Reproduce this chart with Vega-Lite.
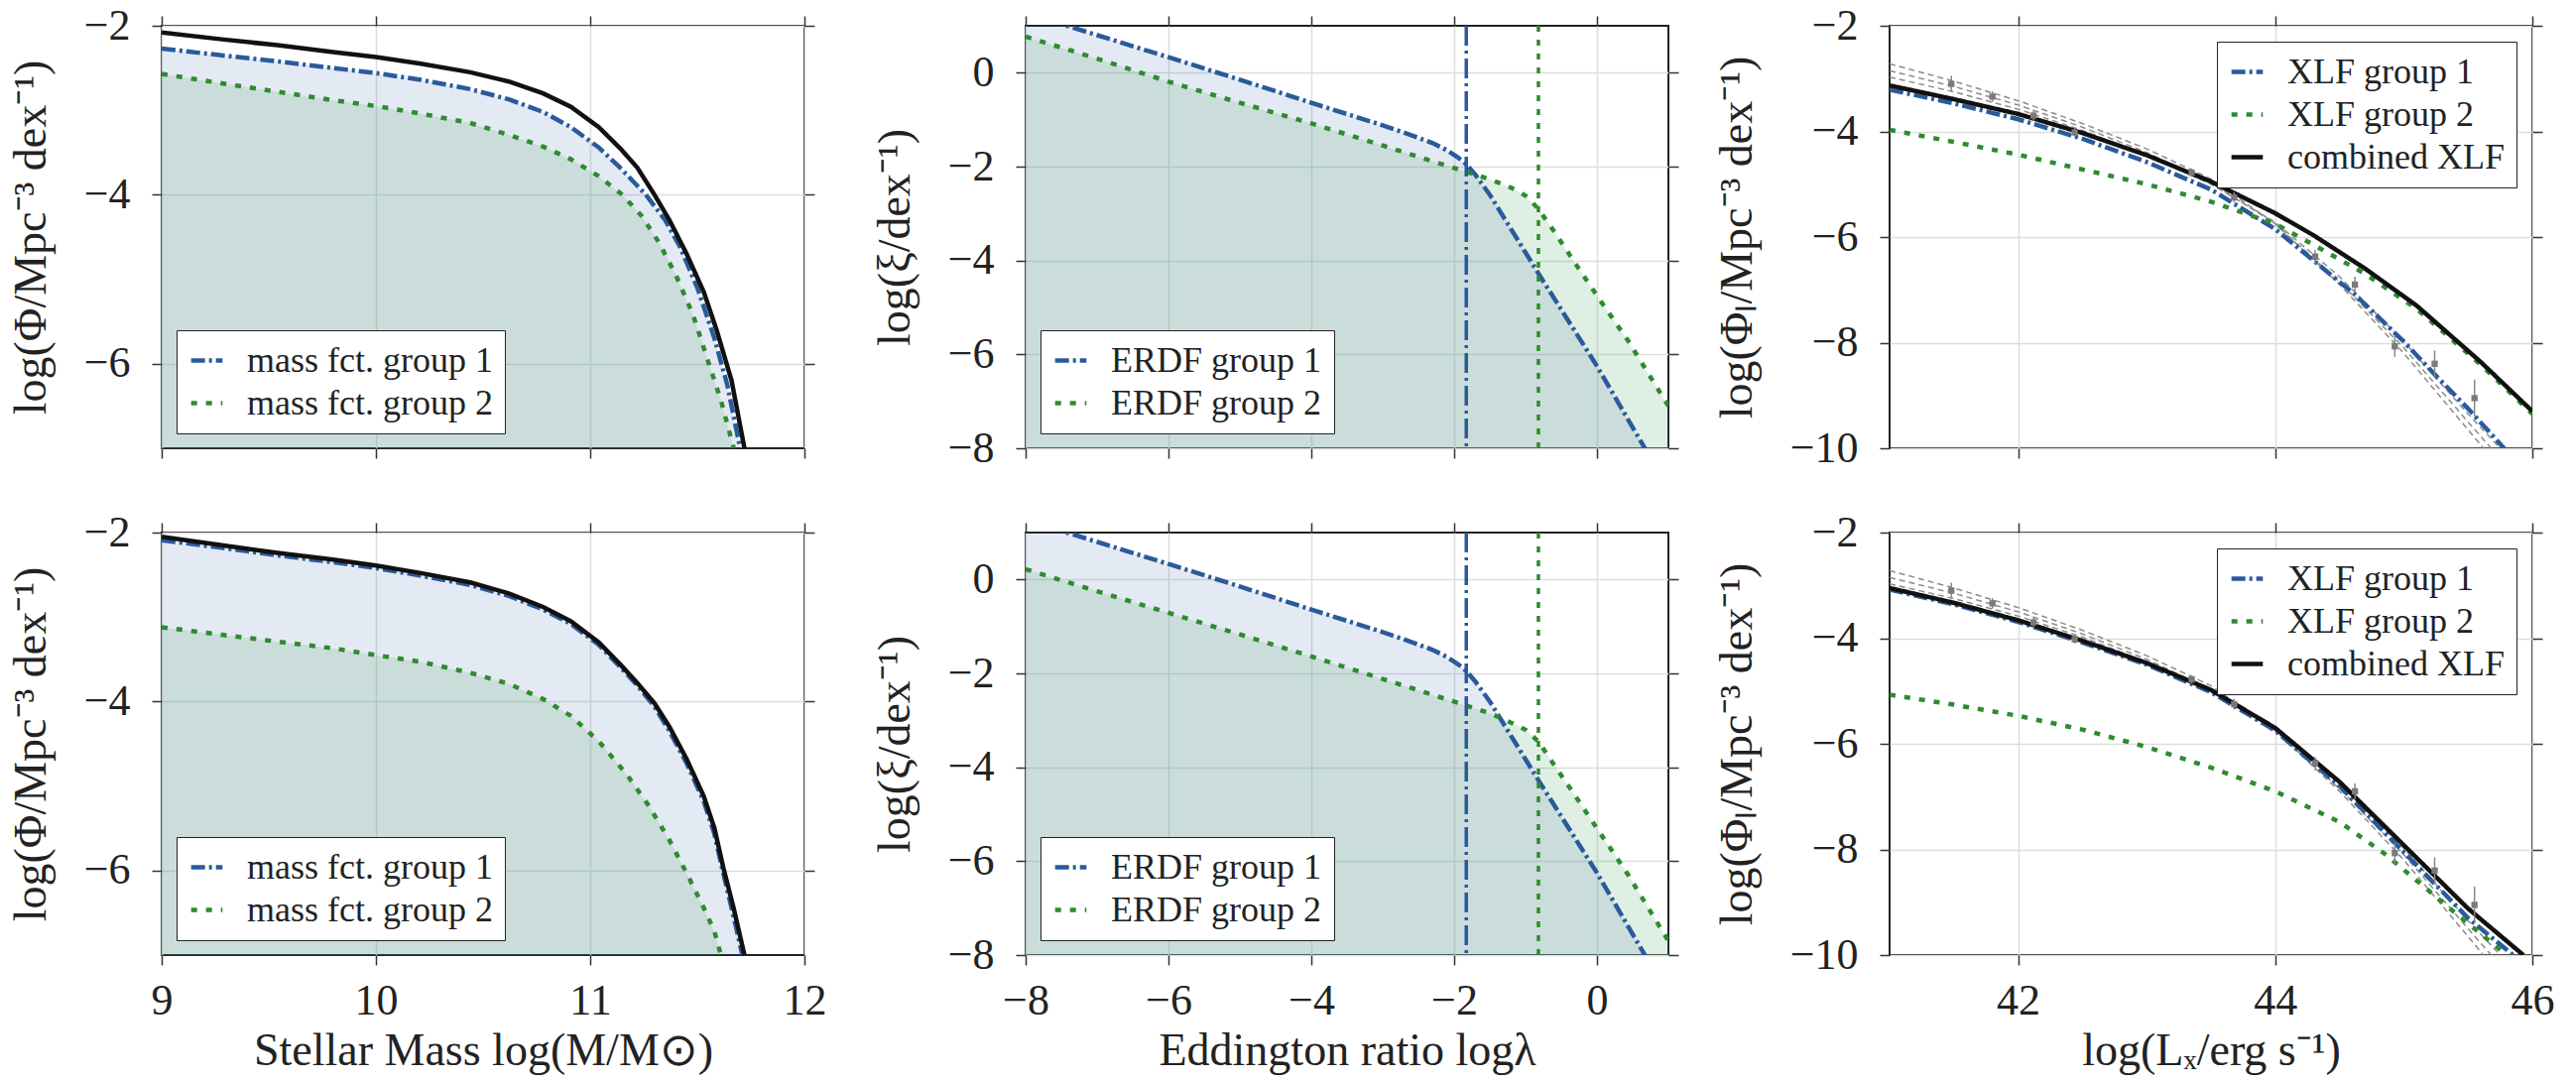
{
 "$schema": "https://vega.github.io/schema/vega-lite/v6.json",
 "background": "white",
 "padding": {"left": 7, "top": 3, "right": 5, "bottom": 5},
 "bounds": "flush",
 "columns": 3,
 "spacing": {"row": 85, "column": 223},
 "resolve": {"scale": {"color": "independent", "strokeDash": "independent"}, "legend": {"color": "independent", "strokeDash": "independent"}},
 "datasets": {
  "mf": [
   {"row":"top","s":"mass fct. group 1","x":9.0,"y":-2.27},{"row":"top","s":"mass fct. group 1","x":9.28,"y":-2.35},{"row":"top","s":"mass fct. group 1","x":9.54,"y":-2.42},{"row":"top","s":"mass fct. group 1","x":9.8,"y":-2.5},{"row":"top","s":"mass fct. group 1","x":10.0,"y":-2.56},{"row":"top","s":"mass fct. group 1","x":10.21,"y":-2.64},{"row":"top","s":"mass fct. group 1","x":10.44,"y":-2.75},{"row":"top","s":"mass fct. group 1","x":10.62,"y":-2.87},{"row":"top","s":"mass fct. group 1","x":10.78,"y":-3.02},{"row":"top","s":"mass fct. group 1","x":10.91,"y":-3.2},{"row":"top","s":"mass fct. group 1","x":11.04,"y":-3.44},{"row":"top","s":"mass fct. group 1","x":11.14,"y":-3.68},{"row":"top","s":"mass fct. group 1","x":11.26,"y":-4.0},{"row":"top","s":"mass fct. group 1","x":11.35,"y":-4.3},{"row":"top","s":"mass fct. group 1","x":11.42,"y":-4.62},{"row":"top","s":"mass fct. group 1","x":11.5,"y":-5.1},{"row":"top","s":"mass fct. group 1","x":11.58,"y":-5.7},{"row":"top","s":"mass fct. group 1","x":11.64,"y":-6.25},{"row":"top","s":"mass fct. group 1","x":11.7,"y":-7.0},
   {"row":"top","s":"mass fct. group 2","x":9.0,"y":-2.57},{"row":"top","s":"mass fct. group 2","x":9.28,"y":-2.68},{"row":"top","s":"mass fct. group 2","x":9.54,"y":-2.78},{"row":"top","s":"mass fct. group 2","x":9.8,"y":-2.88},{"row":"top","s":"mass fct. group 2","x":10.0,"y":-2.95},{"row":"top","s":"mass fct. group 2","x":10.21,"y":-3.04},{"row":"top","s":"mass fct. group 2","x":10.44,"y":-3.15},{"row":"top","s":"mass fct. group 2","x":10.62,"y":-3.29},{"row":"top","s":"mass fct. group 2","x":10.78,"y":-3.43},{"row":"top","s":"mass fct. group 2","x":10.91,"y":-3.58},{"row":"top","s":"mass fct. group 2","x":11.04,"y":-3.78},{"row":"top","s":"mass fct. group 2","x":11.15,"y":-4.0},{"row":"top","s":"mass fct. group 2","x":11.24,"y":-4.25},{"row":"top","s":"mass fct. group 2","x":11.32,"y":-4.56},{"row":"top","s":"mass fct. group 2","x":11.4,"y":-4.95},{"row":"top","s":"mass fct. group 2","x":11.48,"y":-5.42},{"row":"top","s":"mass fct. group 2","x":11.54,"y":-5.89},{"row":"top","s":"mass fct. group 2","x":11.61,"y":-6.43},{"row":"top","s":"mass fct. group 2","x":11.67,"y":-7.0},
   {"row":"top","s":"total","x":9.0,"y":-2.08},{"row":"top","s":"total","x":9.28,"y":-2.16},{"row":"top","s":"total","x":9.54,"y":-2.23},{"row":"top","s":"total","x":9.8,"y":-2.31},{"row":"top","s":"total","x":10.0,"y":-2.37},{"row":"top","s":"total","x":10.21,"y":-2.45},{"row":"top","s":"total","x":10.44,"y":-2.55},{"row":"top","s":"total","x":10.62,"y":-2.66},{"row":"top","s":"total","x":10.78,"y":-2.8},{"row":"top","s":"total","x":10.91,"y":-2.96},{"row":"top","s":"total","x":11.04,"y":-3.2},{"row":"top","s":"total","x":11.14,"y":-3.45},{"row":"top","s":"total","x":11.22,"y":-3.68},{"row":"top","s":"total","x":11.3,"y":-4.0},{"row":"top","s":"total","x":11.37,"y":-4.3},{"row":"top","s":"total","x":11.45,"y":-4.7},{"row":"top","s":"total","x":11.53,"y":-5.15},{"row":"top","s":"total","x":11.59,"y":-5.6},{"row":"top","s":"total","x":11.66,"y":-6.2},{"row":"top","s":"total","x":11.72,"y":-7.0},
   {"row":"bot","s":"mass fct. group 1","x":9.0,"y":-2.09},{"row":"bot","s":"mass fct. group 1","x":9.28,"y":-2.18},{"row":"bot","s":"mass fct. group 1","x":9.54,"y":-2.27},{"row":"bot","s":"mass fct. group 1","x":9.8,"y":-2.35},{"row":"bot","s":"mass fct. group 1","x":10.0,"y":-2.42},{"row":"bot","s":"mass fct. group 1","x":10.21,"y":-2.51},{"row":"bot","s":"mass fct. group 1","x":10.44,"y":-2.62},{"row":"bot","s":"mass fct. group 1","x":10.62,"y":-2.75},{"row":"bot","s":"mass fct. group 1","x":10.78,"y":-2.91},{"row":"bot","s":"mass fct. group 1","x":10.91,"y":-3.08},{"row":"bot","s":"mass fct. group 1","x":11.04,"y":-3.33},{"row":"bot","s":"mass fct. group 1","x":11.14,"y":-3.59},{"row":"bot","s":"mass fct. group 1","x":11.22,"y":-3.81},{"row":"bot","s":"mass fct. group 1","x":11.3,"y":-4.06},{"row":"bot","s":"mass fct. group 1","x":11.37,"y":-4.35},{"row":"bot","s":"mass fct. group 1","x":11.45,"y":-4.73},{"row":"bot","s":"mass fct. group 1","x":11.53,"y":-5.18},{"row":"bot","s":"mass fct. group 1","x":11.58,"y":-5.57},{"row":"bot","s":"mass fct. group 1","x":11.62,"y":-6.02},{"row":"bot","s":"mass fct. group 1","x":11.67,"y":-6.55},{"row":"bot","s":"mass fct. group 1","x":11.71,"y":-7.0},
   {"row":"bot","s":"mass fct. group 2","x":9.0,"y":-3.12},{"row":"bot","s":"mass fct. group 2","x":9.28,"y":-3.21},{"row":"bot","s":"mass fct. group 2","x":9.54,"y":-3.29},{"row":"bot","s":"mass fct. group 2","x":9.8,"y":-3.37},{"row":"bot","s":"mass fct. group 2","x":10.0,"y":-3.45},{"row":"bot","s":"mass fct. group 2","x":10.21,"y":-3.53},{"row":"bot","s":"mass fct. group 2","x":10.44,"y":-3.66},{"row":"bot","s":"mass fct. group 2","x":10.62,"y":-3.79},{"row":"bot","s":"mass fct. group 2","x":10.78,"y":-3.97},{"row":"bot","s":"mass fct. group 2","x":10.91,"y":-4.17},{"row":"bot","s":"mass fct. group 2","x":11.04,"y":-4.47},{"row":"bot","s":"mass fct. group 2","x":11.17,"y":-4.86},{"row":"bot","s":"mass fct. group 2","x":11.27,"y":-5.22},{"row":"bot","s":"mass fct. group 2","x":11.37,"y":-5.64},{"row":"bot","s":"mass fct. group 2","x":11.46,"y":-6.08},{"row":"bot","s":"mass fct. group 2","x":11.53,"y":-6.44},{"row":"bot","s":"mass fct. group 2","x":11.58,"y":-6.72},{"row":"bot","s":"mass fct. group 2","x":11.61,"y":-7.0},
   {"row":"bot","s":"total","x":9.0,"y":-2.05},{"row":"bot","s":"total","x":9.28,"y":-2.15},{"row":"bot","s":"total","x":9.54,"y":-2.24},{"row":"bot","s":"total","x":9.8,"y":-2.32},{"row":"bot","s":"total","x":10.0,"y":-2.39},{"row":"bot","s":"total","x":10.21,"y":-2.48},{"row":"bot","s":"total","x":10.44,"y":-2.59},{"row":"bot","s":"total","x":10.62,"y":-2.72},{"row":"bot","s":"total","x":10.78,"y":-2.88},{"row":"bot","s":"total","x":10.91,"y":-3.05},{"row":"bot","s":"total","x":11.04,"y":-3.3},{"row":"bot","s":"total","x":11.14,"y":-3.56},{"row":"bot","s":"total","x":11.22,"y":-3.78},{"row":"bot","s":"total","x":11.3,"y":-4.02},{"row":"bot","s":"total","x":11.37,"y":-4.3},{"row":"bot","s":"total","x":11.45,"y":-4.68},{"row":"bot","s":"total","x":11.53,"y":-5.12},{"row":"bot","s":"total","x":11.58,"y":-5.5},{"row":"bot","s":"total","x":11.62,"y":-5.95},{"row":"bot","s":"total","x":11.67,"y":-6.45},{"row":"bot","s":"total","x":11.72,"y":-7.0}
  ],
  "erdf": [
   {"row":"top","s":"ERDF group 1","x":-8,"y":1.28},{"row":"top","s":"ERDF group 1","x":-7.42,"y":1.0},{"row":"top","s":"ERDF group 1","x":-6.0,"y":0.33},{"row":"top","s":"ERDF group 1","x":-5.0,"y":-0.15},{"row":"top","s":"ERDF group 1","x":-4.0,"y":-0.64},{"row":"top","s":"ERDF group 1","x":-3.0,"y":-1.12},{"row":"top","s":"ERDF group 1","x":-2.6,"y":-1.33},{"row":"top","s":"ERDF group 1","x":-2.3,"y":-1.5},{"row":"top","s":"ERDF group 1","x":-2.1,"y":-1.65},{"row":"top","s":"ERDF group 1","x":-1.95,"y":-1.8},{"row":"top","s":"ERDF group 1","x":-1.83,"y":-1.95},{"row":"top","s":"ERDF group 1","x":-1.7,"y":-2.18},{"row":"top","s":"ERDF group 1","x":-1.5,"y":-2.6},{"row":"top","s":"ERDF group 1","x":-0.81,"y":-4.3},{"row":"top","s":"ERDF group 1","x":0.0,"y":-6.25},{"row":"top","s":"ERDF group 1","x":0.67,"y":-8.0},{"row":"top","s":"ERDF group 1","x":0.75,"y":-8.2},
   {"row":"top","s":"ERDF group 2","x":-8,"y":0.77},{"row":"top","s":"ERDF group 2","x":-7,"y":0.3},{"row":"top","s":"ERDF group 2","x":-6,"y":-0.19},{"row":"top","s":"ERDF group 2","x":-5,"y":-0.64},{"row":"top","s":"ERDF group 2","x":-4,"y":-1.08},{"row":"top","s":"ERDF group 2","x":-3,"y":-1.55},{"row":"top","s":"ERDF group 2","x":-2,"y":-2.03},{"row":"top","s":"ERDF group 2","x":-1.5,"y":-2.27},{"row":"top","s":"ERDF group 2","x":-1.2,"y":-2.45},{"row":"top","s":"ERDF group 2","x":-1.0,"y":-2.62},{"row":"top","s":"ERDF group 2","x":-0.82,"y":-2.9},{"row":"top","s":"ERDF group 2","x":-0.6,"y":-3.38},{"row":"top","s":"ERDF group 2","x":-0.33,"y":-4.0},{"row":"top","s":"ERDF group 2","x":0.0,"y":-4.75},{"row":"top","s":"ERDF group 2","x":0.44,"y":-5.72},{"row":"top","s":"ERDF group 2","x":1.0,"y":-7.1},
   {"row":"bot","s":"ERDF group 1","x":-8,"y":1.28},{"row":"bot","s":"ERDF group 1","x":-7.42,"y":1.0},{"row":"bot","s":"ERDF group 1","x":-6.0,"y":0.33},{"row":"bot","s":"ERDF group 1","x":-5.0,"y":-0.15},{"row":"bot","s":"ERDF group 1","x":-4.0,"y":-0.64},{"row":"bot","s":"ERDF group 1","x":-3.0,"y":-1.12},{"row":"bot","s":"ERDF group 1","x":-2.6,"y":-1.33},{"row":"bot","s":"ERDF group 1","x":-2.3,"y":-1.5},{"row":"bot","s":"ERDF group 1","x":-2.1,"y":-1.65},{"row":"bot","s":"ERDF group 1","x":-1.95,"y":-1.8},{"row":"bot","s":"ERDF group 1","x":-1.83,"y":-1.95},{"row":"bot","s":"ERDF group 1","x":-1.7,"y":-2.18},{"row":"bot","s":"ERDF group 1","x":-1.5,"y":-2.6},{"row":"bot","s":"ERDF group 1","x":-0.81,"y":-4.3},{"row":"bot","s":"ERDF group 1","x":0.0,"y":-6.25},{"row":"bot","s":"ERDF group 1","x":0.67,"y":-8.0},{"row":"bot","s":"ERDF group 1","x":0.75,"y":-8.2},
   {"row":"bot","s":"ERDF group 2","x":-8,"y":0.22},{"row":"bot","s":"ERDF group 2","x":-7,"y":-0.25},{"row":"bot","s":"ERDF group 2","x":-6,"y":-0.71},{"row":"bot","s":"ERDF group 2","x":-5,"y":-1.17},{"row":"bot","s":"ERDF group 2","x":-4,"y":-1.64},{"row":"bot","s":"ERDF group 2","x":-3,"y":-2.12},{"row":"bot","s":"ERDF group 2","x":-2,"y":-2.6},{"row":"bot","s":"ERDF group 2","x":-1.5,"y":-2.85},{"row":"bot","s":"ERDF group 2","x":-1.27,"y":-3.0},{"row":"bot","s":"ERDF group 2","x":-1.0,"y":-3.2},{"row":"bot","s":"ERDF group 2","x":-0.82,"y":-3.45},{"row":"bot","s":"ERDF group 2","x":-0.6,"y":-3.95},{"row":"bot","s":"ERDF group 2","x":-0.33,"y":-4.55},{"row":"bot","s":"ERDF group 2","x":0.0,"y":-5.3},{"row":"bot","s":"ERDF group 2","x":0.44,"y":-6.3},{"row":"bot","s":"ERDF group 2","x":1.0,"y":-7.7}
  ],
  "erdfv": [{"s":"group 1 break","x":-1.83},{"s":"group 2 break","x":-0.82}],
  "xlf": [
   {"row":"top","s":"XLF group 1","x":41.0,"y":-3.21},{"row":"top","s":"XLF group 1","x":41.5,"y":-3.47},{"row":"top","s":"XLF group 1","x":42.0,"y":-3.77},{"row":"top","s":"XLF group 1","x":42.5,"y":-4.14},{"row":"top","s":"XLF group 1","x":43.0,"y":-4.58},{"row":"top","s":"XLF group 1","x":43.5,"y":-5.1},{"row":"top","s":"XLF group 1","x":44.0,"y":-5.85},{"row":"top","s":"XLF group 1","x":44.3,"y":-6.45},{"row":"top","s":"XLF group 1","x":44.62,"y":-7.09},{"row":"top","s":"XLF group 1","x":45.0,"y":-7.98},{"row":"top","s":"XLF group 1","x":45.24,"y":-8.6},{"row":"top","s":"XLF group 1","x":45.5,"y":-9.25},{"row":"top","s":"XLF group 1","x":45.78,"y":-10.0},
   {"row":"top","s":"XLF group 2","x":41.0,"y":-3.97},{"row":"top","s":"XLF group 2","x":41.5,"y":-4.2},{"row":"top","s":"XLF group 2","x":42.0,"y":-4.44},{"row":"top","s":"XLF group 2","x":42.5,"y":-4.72},{"row":"top","s":"XLF group 2","x":43.0,"y":-5.0},{"row":"top","s":"XLF group 2","x":43.5,"y":-5.33},{"row":"top","s":"XLF group 2","x":44.0,"y":-5.75},{"row":"top","s":"XLF group 2","x":44.3,"y":-6.15},{"row":"top","s":"XLF group 2","x":44.7,"y":-6.7},{"row":"top","s":"XLF group 2","x":45.1,"y":-7.36},{"row":"top","s":"XLF group 2","x":45.6,"y":-8.42},{"row":"top","s":"XLF group 2","x":46.0,"y":-9.35},
   {"row":"top","s":"combined XLF","x":41.0,"y":-3.13},{"row":"top","s":"combined XLF","x":41.5,"y":-3.39},{"row":"top","s":"combined XLF","x":42.0,"y":-3.67},{"row":"top","s":"combined XLF","x":42.5,"y":-4.03},{"row":"top","s":"combined XLF","x":43.0,"y":-4.45},{"row":"top","s":"combined XLF","x":43.5,"y":-4.95},{"row":"top","s":"combined XLF","x":44.0,"y":-5.55},{"row":"top","s":"combined XLF","x":44.3,"y":-5.97},{"row":"top","s":"combined XLF","x":44.7,"y":-6.6},{"row":"top","s":"combined XLF","x":45.1,"y":-7.3},{"row":"top","s":"combined XLF","x":45.6,"y":-8.37},{"row":"top","s":"combined XLF","x":46.0,"y":-9.3},
   {"row":"bot","s":"XLF group 1","x":41.0,"y":-3.08},{"row":"bot","s":"XLF group 1","x":41.5,"y":-3.36},{"row":"bot","s":"XLF group 1","x":42.0,"y":-3.69},{"row":"bot","s":"XLF group 1","x":42.5,"y":-4.08},{"row":"bot","s":"XLF group 1","x":43.0,"y":-4.5},{"row":"bot","s":"XLF group 1","x":43.5,"y":-5.02},{"row":"bot","s":"XLF group 1","x":44.0,"y":-5.75},{"row":"bot","s":"XLF group 1","x":44.5,"y":-6.8},{"row":"bot","s":"XLF group 1","x":45.0,"y":-8.05},{"row":"bot","s":"XLF group 1","x":45.5,"y":-9.3},{"row":"bot","s":"XLF group 1","x":45.85,"y":-10.0},
   {"row":"bot","s":"XLF group 2","x":41.0,"y":-5.07},{"row":"bot","s":"XLF group 2","x":41.5,"y":-5.26},{"row":"bot","s":"XLF group 2","x":42.0,"y":-5.47},{"row":"bot","s":"XLF group 2","x":42.5,"y":-5.73},{"row":"bot","s":"XLF group 2","x":43.0,"y":-6.06},{"row":"bot","s":"XLF group 2","x":43.5,"y":-6.45},{"row":"bot","s":"XLF group 2","x":44.0,"y":-6.9},{"row":"bot","s":"XLF group 2","x":44.5,"y":-7.48},{"row":"bot","s":"XLF group 2","x":44.85,"y":-8.08},{"row":"bot","s":"XLF group 2","x":45.34,"y":-9.08},{"row":"bot","s":"XLF group 2","x":45.8,"y":-10.0},
   {"row":"bot","s":"combined XLF","x":41.0,"y":-3.05},{"row":"bot","s":"combined XLF","x":41.5,"y":-3.33},{"row":"bot","s":"combined XLF","x":42.0,"y":-3.66},{"row":"bot","s":"combined XLF","x":42.5,"y":-4.05},{"row":"bot","s":"combined XLF","x":43.0,"y":-4.47},{"row":"bot","s":"combined XLF","x":43.5,"y":-4.98},{"row":"bot","s":"combined XLF","x":44.0,"y":-5.7},{"row":"bot","s":"combined XLF","x":44.5,"y":-6.72},{"row":"bot","s":"combined XLF","x":45.0,"y":-7.92},{"row":"bot","s":"combined XLF","x":45.5,"y":-9.12},{"row":"bot","s":"combined XLF","x":45.93,"y":-10.0}
  ],
  "xref": [
   {"c":"A","x":41.0,"y":-2.72},{"c":"A","x":41.5,"y":-3.05},{"c":"A","x":42.0,"y":-3.42},{"c":"A","x":42.5,"y":-3.85},{"c":"A","x":43.0,"y":-4.33},{"c":"A","x":43.5,"y":-4.9},{"c":"A","x":44.0,"y":-5.75},{"c":"A","x":44.5,"y":-6.9},{"c":"A","x":45.0,"y":-8.2},{"c":"A","x":45.5,"y":-9.65},{"c":"A","x":45.62,"y":-10.0},
   {"c":"B","x":41.0,"y":-2.85},{"c":"B","x":41.5,"y":-3.15},{"c":"B","x":42.0,"y":-3.5},{"c":"B","x":42.5,"y":-3.92},{"c":"B","x":43.0,"y":-4.4},{"c":"B","x":43.5,"y":-4.97},{"c":"B","x":44.0,"y":-5.75},{"c":"B","x":44.5,"y":-6.85},{"c":"B","x":45.0,"y":-8.1},{"c":"B","x":45.5,"y":-9.5},{"c":"B","x":45.68,"y":-10.0},
   {"c":"C","x":41.0,"y":-2.97},{"c":"C","x":41.5,"y":-3.25},{"c":"C","x":42.0,"y":-3.58},{"c":"C","x":42.5,"y":-3.98},{"c":"C","x":43.0,"y":-4.45},{"c":"C","x":43.5,"y":-5.0},{"c":"C","x":44.0,"y":-5.72},{"c":"C","x":44.5,"y":-6.75},{"c":"C","x":45.0,"y":-7.98},{"c":"C","x":45.5,"y":-9.35},{"c":"C","x":45.75,"y":-10.0}
  ],
  "xpts": [
   {"x":41.48,"y":-3.1,"lo":-3.25,"hi":-2.95},{"x":41.8,"y":-3.34,"lo":-3.44,"hi":-3.24},{"x":42.12,"y":-3.7,"lo":-3.8,"hi":-3.6},{"x":42.44,"y":-4.02,"lo":-4.1,"hi":-3.94},{"x":43.35,"y":-4.78,"lo":-4.86,"hi":-4.7},{"x":43.68,"y":-5.25,"lo":-5.35,"hi":-5.15},{"x":44.31,"y":-6.37,"lo":-6.5,"hi":-6.25},{"x":44.62,"y":-6.9,"lo":-7.05,"hi":-6.75},{"x":44.93,"y":-8.07,"lo":-8.27,"hi":-7.87},{"x":45.24,"y":-8.4,"lo":-8.65,"hi":-8.15},{"x":45.55,"y":-9.05,"lo":-9.4,"hi":-8.7}
  ]
 },
 "concat": [
  {
   "width": 648, "height": 426,
   "resolve": {"axis": {"x": "independent", "y": "independent"}},
   "layer": [
    {
     "encoding": {"x": {"field": "x", "type": "quantitative", "scale": {"domain": [9, 12], "nice": false, "zero": false}, "axis": {"values": [9, 10, 11, 12], "labels": false, "title": null}}},
     "layer": [
      {"data": {"name": "mf"}, "transform": [{"filter": "datum.row=='top' && datum.s=='mass fct. group 1'"}], "mark": {"type": "area", "color": "#4c72b0", "opacity": 0.15, "clip": true},
       "encoding": {"y": {"field": "y", "type": "quantitative", "scale": {"domain": [-7, -2], "nice": false, "zero": false}, "axis": {"values": [-6, -4, -2], "title": "log(Φ/Mpc⁻³ dex⁻¹)"}}, "y2": {"datum": -7}}},
      {"data": {"name": "mf"}, "transform": [{"filter": "datum.row=='top' && datum.s=='mass fct. group 2'"}], "mark": {"type": "area", "color": "#55a868", "opacity": 0.18, "clip": true},
       "encoding": {"y": {"field": "y", "type": "quantitative", "scale": {"domain": [-7, -2], "nice": false, "zero": false}, "axis": {"values": [-6, -4, -2], "title": "log(Φ/Mpc⁻³ dex⁻¹)"}}, "y2": {"datum": -7}}},
      {"data": {"name": "mf"}, "transform": [{"filter": "datum.row=='top' && datum.s!='total'"}], "mark": {"type": "line", "strokeWidth": 4.5, "clip": true},
       "encoding": {
        "y": {"field": "y", "type": "quantitative", "scale": {"domain": [-7, -2], "nice": false, "zero": false}, "axis": {"values": [-6, -4, -2], "title": "log(Φ/Mpc⁻³ dex⁻¹)"}},
        "color": {"field": "s", "type": "nominal", "scale": {"domain": ["mass fct. group 1", "mass fct. group 2"], "range": ["#2a5a9c", "#2e8b2e"]}, "legend": {"title": null, "orient": "bottom-left", "offset": 15}},
        "strokeDash": {"field": "s", "type": "nominal", "scale": {"domain": ["mass fct. group 1", "mass fct. group 2"], "range": [[14, 4, 3, 4], [6, 9]]}, "legend": {"title": null, "orient": "bottom-left", "offset": 15}}
       }},
      {"data": {"name": "mf"}, "transform": [{"filter": "datum.row=='top' && datum.s=='total'"}], "mark": {"type": "line", "color": "#111111", "strokeWidth": 4.5, "clip": true},
       "encoding": {"y": {"field": "y", "type": "quantitative", "scale": {"domain": [-7, -2], "nice": false, "zero": false}, "axis": {"values": [-6, -4, -2], "title": "log(Φ/Mpc⁻³ dex⁻¹)"}}}}
     ]
    },
    {"data": {"name": "mf"}, "mark": {"type": "point", "opacity": 0},
     "encoding": {
      "x": {"field": "x", "type": "quantitative", "scale": {"domain": [9, 12], "nice": false, "zero": false}, "axis": {"orient": "top", "values": [9, 10, 11, 12], "labels": false, "title": null, "grid": false}},
      "y": {"field": "y", "type": "quantitative", "scale": {"domain": [-7, -2], "nice": false, "zero": false}, "axis": {"orient": "right", "values": [-6, -4, -2], "labels": false, "title": null, "grid": false}}
     }}
   ]
  },
  {
   "width": 648, "height": 426,
   "resolve": {"axis": {"x": "independent", "y": "independent"}},
   "layer": [
    {
     "encoding": {"x": {"field": "x", "type": "quantitative", "scale": {"domain": [-8, 1], "nice": false, "zero": false}, "axis": {"values": [-8, -6, -4, -2, 0], "labels": false, "title": null}}},
     "layer": [
      {"data": {"name": "erdf"}, "transform": [{"filter": "datum.row=='top' && datum.s=='ERDF group 1'"}], "mark": {"type": "area", "color": "#4c72b0", "opacity": 0.15, "clip": true},
       "encoding": {"y": {"field": "y", "type": "quantitative", "scale": {"domain": [-8, 1], "nice": false, "zero": false}, "axis": {"values": [-8, -6, -4, -2, 0], "title": "log(ξ/dex⁻¹)"}}, "y2": {"datum": -8}}},
      {"data": {"name": "erdf"}, "transform": [{"filter": "datum.row=='top' && datum.s=='ERDF group 2'"}], "mark": {"type": "area", "color": "#55a868", "opacity": 0.18, "clip": true},
       "encoding": {"y": {"field": "y", "type": "quantitative", "scale": {"domain": [-8, 1], "nice": false, "zero": false}, "axis": {"values": [-8, -6, -4, -2, 0], "title": "log(ξ/dex⁻¹)"}}, "y2": {"datum": -8}}},
      {"data": {"name": "erdf"}, "transform": [{"filter": "datum.row=='top'"}], "mark": {"type": "line", "strokeWidth": 4.5, "clip": true},
       "encoding": {
        "y": {"field": "y", "type": "quantitative", "scale": {"domain": [-8, 1], "nice": false, "zero": false}, "axis": {"values": [-8, -6, -4, -2, 0], "title": "log(ξ/dex⁻¹)"}},
        "color": {"field": "s", "type": "nominal", "scale": {"domain": ["ERDF group 1", "ERDF group 2"], "range": ["#2a5a9c", "#2e8b2e"]}, "legend": {"title": null, "orient": "bottom-left", "offset": 15}},
        "strokeDash": {"field": "s", "type": "nominal", "scale": {"domain": ["ERDF group 1", "ERDF group 2"], "range": [[14, 4, 3, 4], [6, 9]]}, "legend": {"title": null, "orient": "bottom-left", "offset": 15}}
       }},
      {"data": {"name": "erdfv"}, "transform": [{"filter": "datum.s=='group 1 break'"}], "mark": {"type": "rule", "color": "#2a5a9c", "strokeWidth": 3.5, "strokeDash": [20, 5, 3, 5]}, "encoding": {}},
      {"data": {"name": "erdfv"}, "transform": [{"filter": "datum.s=='group 2 break'"}], "mark": {"type": "rule", "color": "#2e8b2e", "strokeWidth": 3.5, "strokeDash": [6, 8]}, "encoding": {}}
     ]
    },
    {"data": {"name": "erdf"}, "mark": {"type": "point", "opacity": 0},
     "encoding": {
      "x": {"field": "x", "type": "quantitative", "scale": {"domain": [-8, 1], "nice": false, "zero": false}, "axis": {"orient": "top", "values": [-8, -6, -4, -2, 0], "labels": false, "title": null, "grid": false}},
      "y": {"field": "y", "type": "quantitative", "scale": {"domain": [-8, 1], "nice": false, "zero": false}, "axis": {"orient": "right", "values": [-8, -6, -4, -2, 0], "labels": false, "title": null, "grid": false}}
     }}
   ]
  },
  {
   "width": 648, "height": 426,
   "resolve": {"axis": {"x": "independent", "y": "independent"}},
   "layer": [
    {
     "encoding": {"x": {"field": "x", "type": "quantitative", "scale": {"domain": [41, 46], "nice": false, "zero": false}, "axis": {"values": [42, 44, 46], "labels": false, "title": null}}},
     "layer": [
      {"data": {"name": "xref"}, "mark": {"type": "line", "color": "#8c8c8c", "strokeWidth": 1.5, "strokeDash": [6, 4], "clip": true},
       "encoding": {"y": {"field": "y", "type": "quantitative", "scale": {"domain": [-10, -2], "nice": false, "zero": false}, "axis": {"values": [-10, -8, -6, -4, -2], "title": "log(Φₗ/Mpc⁻³ dex⁻¹)"}}, "detail": {"field": "c", "type": "nominal"}}},
      {"data": {"name": "xlf"}, "transform": [{"filter": "datum.row=='top' && datum.s!='combined XLF'"}], "mark": {"type": "line", "strokeWidth": 4.5, "clip": true},
       "encoding": {
        "y": {"field": "y", "type": "quantitative", "scale": {"domain": [-10, -2], "nice": false, "zero": false}, "axis": {"values": [-10, -8, -6, -4, -2], "title": "log(Φₗ/Mpc⁻³ dex⁻¹)"}},
        "color": {"field": "s", "type": "nominal", "scale": {"domain": ["XLF group 1", "XLF group 2", "combined XLF"], "range": ["#2a5a9c", "#2e8b2e", "#111111"]}, "legend": {"title": null, "orient": "top-right", "offset": 16}},
        "strokeDash": {"field": "s", "type": "nominal", "scale": {"domain": ["XLF group 1", "XLF group 2", "combined XLF"], "range": [[14, 4, 3, 4], [6, 9], [1, 0]]}, "legend": {"title": null, "orient": "top-right", "offset": 16}}
       }},
      {"data": {"name": "xlf"}, "transform": [{"filter": "datum.row=='top' && datum.s=='combined XLF'"}], "mark": {"type": "line", "strokeWidth": 4.5, "clip": true},
       "encoding": {
        "y": {"field": "y", "type": "quantitative", "scale": {"domain": [-10, -2], "nice": false, "zero": false}, "axis": {"values": [-10, -8, -6, -4, -2], "title": "log(Φₗ/Mpc⁻³ dex⁻¹)"}},
        "color": {"field": "s", "type": "nominal", "scale": {"domain": ["XLF group 1", "XLF group 2", "combined XLF"], "range": ["#2a5a9c", "#2e8b2e", "#111111"]}, "legend": {"title": null, "orient": "top-right", "offset": 16}},
        "strokeDash": {"field": "s", "type": "nominal", "scale": {"domain": ["XLF group 1", "XLF group 2", "combined XLF"], "range": [[14, 4, 3, 4], [6, 9], [1, 0]]}, "legend": {"title": null, "orient": "top-right", "offset": 16}}
       }},
      {"data": {"name": "xpts"}, "mark": {"type": "rule", "color": "#888888", "strokeWidth": 1.5},
       "encoding": {"y": {"field": "lo", "type": "quantitative", "scale": {"domain": [-10, -2], "nice": false, "zero": false}, "axis": {"values": [-10, -8, -6, -4, -2], "title": "log(Φₗ/Mpc⁻³ dex⁻¹)"}}, "y2": {"field": "hi"}}},
      {"data": {"name": "xpts"}, "mark": {"type": "square", "color": "#7a7a7a", "size": 40, "opacity": 1},
       "encoding": {"y": {"field": "y", "type": "quantitative", "scale": {"domain": [-10, -2], "nice": false, "zero": false}, "axis": {"values": [-10, -8, -6, -4, -2], "title": "log(Φₗ/Mpc⁻³ dex⁻¹)"}}}}
     ]
    },
    {"data": {"name": "xpts"}, "mark": {"type": "point", "opacity": 0},
     "encoding": {
      "x": {"field": "x", "type": "quantitative", "scale": {"domain": [41, 46], "nice": false, "zero": false}, "axis": {"orient": "top", "values": [42, 44, 46], "labels": false, "title": null, "grid": false}},
      "y": {"field": "y", "type": "quantitative", "scale": {"domain": [-10, -2], "nice": false, "zero": false}, "axis": {"orient": "right", "values": [-10, -8, -6, -4, -2], "labels": false, "title": null, "grid": false}}
     }}
   ]
  },
  {
   "width": 648, "height": 426,
   "resolve": {"axis": {"x": "independent", "y": "independent"}},
   "layer": [
    {
     "encoding": {"x": {"field": "x", "type": "quantitative", "scale": {"domain": [9, 12], "nice": false, "zero": false}, "axis": {"values": [9, 10, 11, 12], "title": "Stellar Mass log(M/M⊙)"}}},
     "layer": [
      {"data": {"name": "mf"}, "transform": [{"filter": "datum.row=='bot' && datum.s=='mass fct. group 1'"}], "mark": {"type": "area", "color": "#4c72b0", "opacity": 0.15, "clip": true},
       "encoding": {"y": {"field": "y", "type": "quantitative", "scale": {"domain": [-7, -2], "nice": false, "zero": false}, "axis": {"values": [-6, -4, -2], "title": "log(Φ/Mpc⁻³ dex⁻¹)"}}, "y2": {"datum": -7}}},
      {"data": {"name": "mf"}, "transform": [{"filter": "datum.row=='bot' && datum.s=='mass fct. group 2'"}], "mark": {"type": "area", "color": "#55a868", "opacity": 0.18, "clip": true},
       "encoding": {"y": {"field": "y", "type": "quantitative", "scale": {"domain": [-7, -2], "nice": false, "zero": false}, "axis": {"values": [-6, -4, -2], "title": "log(Φ/Mpc⁻³ dex⁻¹)"}}, "y2": {"datum": -7}}},
      {"data": {"name": "mf"}, "transform": [{"filter": "datum.row=='bot' && datum.s!='total'"}], "mark": {"type": "line", "strokeWidth": 4.5, "clip": true},
       "encoding": {
        "y": {"field": "y", "type": "quantitative", "scale": {"domain": [-7, -2], "nice": false, "zero": false}, "axis": {"values": [-6, -4, -2], "title": "log(Φ/Mpc⁻³ dex⁻¹)"}},
        "color": {"field": "s", "type": "nominal", "scale": {"domain": ["mass fct. group 1", "mass fct. group 2"], "range": ["#2a5a9c", "#2e8b2e"]}, "legend": {"title": null, "orient": "bottom-left", "offset": 15}},
        "strokeDash": {"field": "s", "type": "nominal", "scale": {"domain": ["mass fct. group 1", "mass fct. group 2"], "range": [[14, 4, 3, 4], [6, 9]]}, "legend": {"title": null, "orient": "bottom-left", "offset": 15}}
       }},
      {"data": {"name": "mf"}, "transform": [{"filter": "datum.row=='bot' && datum.s=='total'"}], "mark": {"type": "line", "color": "#111111", "strokeWidth": 4.5, "clip": true},
       "encoding": {"y": {"field": "y", "type": "quantitative", "scale": {"domain": [-7, -2], "nice": false, "zero": false}, "axis": {"values": [-6, -4, -2], "title": "log(Φ/Mpc⁻³ dex⁻¹)"}}}}
     ]
    },
    {"data": {"name": "mf"}, "mark": {"type": "point", "opacity": 0},
     "encoding": {
      "x": {"field": "x", "type": "quantitative", "scale": {"domain": [9, 12], "nice": false, "zero": false}, "axis": {"orient": "top", "values": [9, 10, 11, 12], "labels": false, "title": null, "grid": false}},
      "y": {"field": "y", "type": "quantitative", "scale": {"domain": [-7, -2], "nice": false, "zero": false}, "axis": {"orient": "right", "values": [-6, -4, -2], "labels": false, "title": null, "grid": false}}
     }}
   ]
  },
  {
   "width": 648, "height": 426,
   "resolve": {"axis": {"x": "independent", "y": "independent"}},
   "layer": [
    {
     "encoding": {"x": {"field": "x", "type": "quantitative", "scale": {"domain": [-8, 1], "nice": false, "zero": false}, "axis": {"values": [-8, -6, -4, -2, 0], "title": "Eddington ratio logλ"}}},
     "layer": [
      {"data": {"name": "erdf"}, "transform": [{"filter": "datum.row=='bot' && datum.s=='ERDF group 1'"}], "mark": {"type": "area", "color": "#4c72b0", "opacity": 0.15, "clip": true},
       "encoding": {"y": {"field": "y", "type": "quantitative", "scale": {"domain": [-8, 1], "nice": false, "zero": false}, "axis": {"values": [-8, -6, -4, -2, 0], "title": "log(ξ/dex⁻¹)"}}, "y2": {"datum": -8}}},
      {"data": {"name": "erdf"}, "transform": [{"filter": "datum.row=='bot' && datum.s=='ERDF group 2'"}], "mark": {"type": "area", "color": "#55a868", "opacity": 0.18, "clip": true},
       "encoding": {"y": {"field": "y", "type": "quantitative", "scale": {"domain": [-8, 1], "nice": false, "zero": false}, "axis": {"values": [-8, -6, -4, -2, 0], "title": "log(ξ/dex⁻¹)"}}, "y2": {"datum": -8}}},
      {"data": {"name": "erdf"}, "transform": [{"filter": "datum.row=='bot'"}], "mark": {"type": "line", "strokeWidth": 4.5, "clip": true},
       "encoding": {
        "y": {"field": "y", "type": "quantitative", "scale": {"domain": [-8, 1], "nice": false, "zero": false}, "axis": {"values": [-8, -6, -4, -2, 0], "title": "log(ξ/dex⁻¹)"}},
        "color": {"field": "s", "type": "nominal", "scale": {"domain": ["ERDF group 1", "ERDF group 2"], "range": ["#2a5a9c", "#2e8b2e"]}, "legend": {"title": null, "orient": "bottom-left", "offset": 15}},
        "strokeDash": {"field": "s", "type": "nominal", "scale": {"domain": ["ERDF group 1", "ERDF group 2"], "range": [[14, 4, 3, 4], [6, 9]]}, "legend": {"title": null, "orient": "bottom-left", "offset": 15}}
       }},
      {"data": {"name": "erdfv"}, "transform": [{"filter": "datum.s=='group 1 break'"}], "mark": {"type": "rule", "color": "#2a5a9c", "strokeWidth": 3.5, "strokeDash": [20, 5, 3, 5]}, "encoding": {}},
      {"data": {"name": "erdfv"}, "transform": [{"filter": "datum.s=='group 2 break'"}], "mark": {"type": "rule", "color": "#2e8b2e", "strokeWidth": 3.5, "strokeDash": [6, 8]}, "encoding": {}}
     ]
    },
    {"data": {"name": "erdf"}, "mark": {"type": "point", "opacity": 0},
     "encoding": {
      "x": {"field": "x", "type": "quantitative", "scale": {"domain": [-8, 1], "nice": false, "zero": false}, "axis": {"orient": "top", "values": [-8, -6, -4, -2, 0], "labels": false, "title": null, "grid": false}},
      "y": {"field": "y", "type": "quantitative", "scale": {"domain": [-8, 1], "nice": false, "zero": false}, "axis": {"orient": "right", "values": [-8, -6, -4, -2, 0], "labels": false, "title": null, "grid": false}}
     }}
   ]
  },
  {
   "width": 648, "height": 426,
   "resolve": {"axis": {"x": "independent", "y": "independent"}},
   "layer": [
    {
     "encoding": {"x": {"field": "x", "type": "quantitative", "scale": {"domain": [41, 46], "nice": false, "zero": false}, "axis": {"values": [42, 44, 46], "title": "log(Lₓ/erg s⁻¹)"}}},
     "layer": [
      {"data": {"name": "xref"}, "mark": {"type": "line", "color": "#8c8c8c", "strokeWidth": 1.5, "strokeDash": [6, 4], "clip": true},
       "encoding": {"y": {"field": "y", "type": "quantitative", "scale": {"domain": [-10, -2], "nice": false, "zero": false}, "axis": {"values": [-10, -8, -6, -4, -2], "title": "log(Φₗ/Mpc⁻³ dex⁻¹)"}}, "detail": {"field": "c", "type": "nominal"}}},
      {"data": {"name": "xlf"}, "transform": [{"filter": "datum.row=='bot' && datum.s!='combined XLF'"}], "mark": {"type": "line", "strokeWidth": 4.5, "clip": true},
       "encoding": {
        "y": {"field": "y", "type": "quantitative", "scale": {"domain": [-10, -2], "nice": false, "zero": false}, "axis": {"values": [-10, -8, -6, -4, -2], "title": "log(Φₗ/Mpc⁻³ dex⁻¹)"}},
        "color": {"field": "s", "type": "nominal", "scale": {"domain": ["XLF group 1", "XLF group 2", "combined XLF"], "range": ["#2a5a9c", "#2e8b2e", "#111111"]}, "legend": {"title": null, "orient": "top-right", "offset": 16}},
        "strokeDash": {"field": "s", "type": "nominal", "scale": {"domain": ["XLF group 1", "XLF group 2", "combined XLF"], "range": [[14, 4, 3, 4], [6, 9], [1, 0]]}, "legend": {"title": null, "orient": "top-right", "offset": 16}}
       }},
      {"data": {"name": "xlf"}, "transform": [{"filter": "datum.row=='bot' && datum.s=='combined XLF'"}], "mark": {"type": "line", "strokeWidth": 4.5, "clip": true},
       "encoding": {
        "y": {"field": "y", "type": "quantitative", "scale": {"domain": [-10, -2], "nice": false, "zero": false}, "axis": {"values": [-10, -8, -6, -4, -2], "title": "log(Φₗ/Mpc⁻³ dex⁻¹)"}},
        "color": {"field": "s", "type": "nominal", "scale": {"domain": ["XLF group 1", "XLF group 2", "combined XLF"], "range": ["#2a5a9c", "#2e8b2e", "#111111"]}, "legend": {"title": null, "orient": "top-right", "offset": 16}},
        "strokeDash": {"field": "s", "type": "nominal", "scale": {"domain": ["XLF group 1", "XLF group 2", "combined XLF"], "range": [[14, 4, 3, 4], [6, 9], [1, 0]]}, "legend": {"title": null, "orient": "top-right", "offset": 16}}
       }},
      {"data": {"name": "xpts"}, "mark": {"type": "rule", "color": "#888888", "strokeWidth": 1.5},
       "encoding": {"y": {"field": "lo", "type": "quantitative", "scale": {"domain": [-10, -2], "nice": false, "zero": false}, "axis": {"values": [-10, -8, -6, -4, -2], "title": "log(Φₗ/Mpc⁻³ dex⁻¹)"}}, "y2": {"field": "hi"}}},
      {"data": {"name": "xpts"}, "mark": {"type": "square", "color": "#7a7a7a", "size": 40, "opacity": 1},
       "encoding": {"y": {"field": "y", "type": "quantitative", "scale": {"domain": [-10, -2], "nice": false, "zero": false}, "axis": {"values": [-10, -8, -6, -4, -2], "title": "log(Φₗ/Mpc⁻³ dex⁻¹)"}}}}
     ]
    },
    {"data": {"name": "xpts"}, "mark": {"type": "point", "opacity": 0},
     "encoding": {
      "x": {"field": "x", "type": "quantitative", "scale": {"domain": [41, 46], "nice": false, "zero": false}, "axis": {"orient": "top", "values": [42, 44, 46], "labels": false, "title": null, "grid": false}},
      "y": {"field": "y", "type": "quantitative", "scale": {"domain": [-10, -2], "nice": false, "zero": false}, "axis": {"orient": "right", "values": [-10, -8, -6, -4, -2], "labels": false, "title": null, "grid": false}}
     }}
   ]
  }
 ],
 "config": {
  "font": "Liberation Serif",
  "view": {"stroke": "#222222", "strokeWidth": 2},
  "axis": {"labelFont": "Liberation Serif", "titleFont": "Liberation Serif", "labelFontSize": 44, "titleFontSize": 46, "titleFontWeight": "normal", "labelColor": "#222222", "titleColor": "#222222", "tickColor": "#333333", "tickSize": 10, "tickWidth": 1.5, "domain": false, "gridColor": "#dddddd", "gridWidth": 1.5, "labelFlush": false, "labelOverlap": false},
  "axisX": {"labelPadding": 14, "titlePadding": 6},
  "axisY": {"labelPadding": 22, "titlePadding": 29},
  "legend": {"labelFont": "Liberation Serif", "labelFontSize": 36, "labelColor": "#222222", "labelLimit": 500, "fillColor": "#ffffff", "strokeColor": "#222222", "padding": 12, "rowPadding": 6, "symbolSize": 1000, "symbolStrokeWidth": 4.5, "labelOffset": 22, "symbolType": "stroke", "cornerRadius": 0}
 }
}
